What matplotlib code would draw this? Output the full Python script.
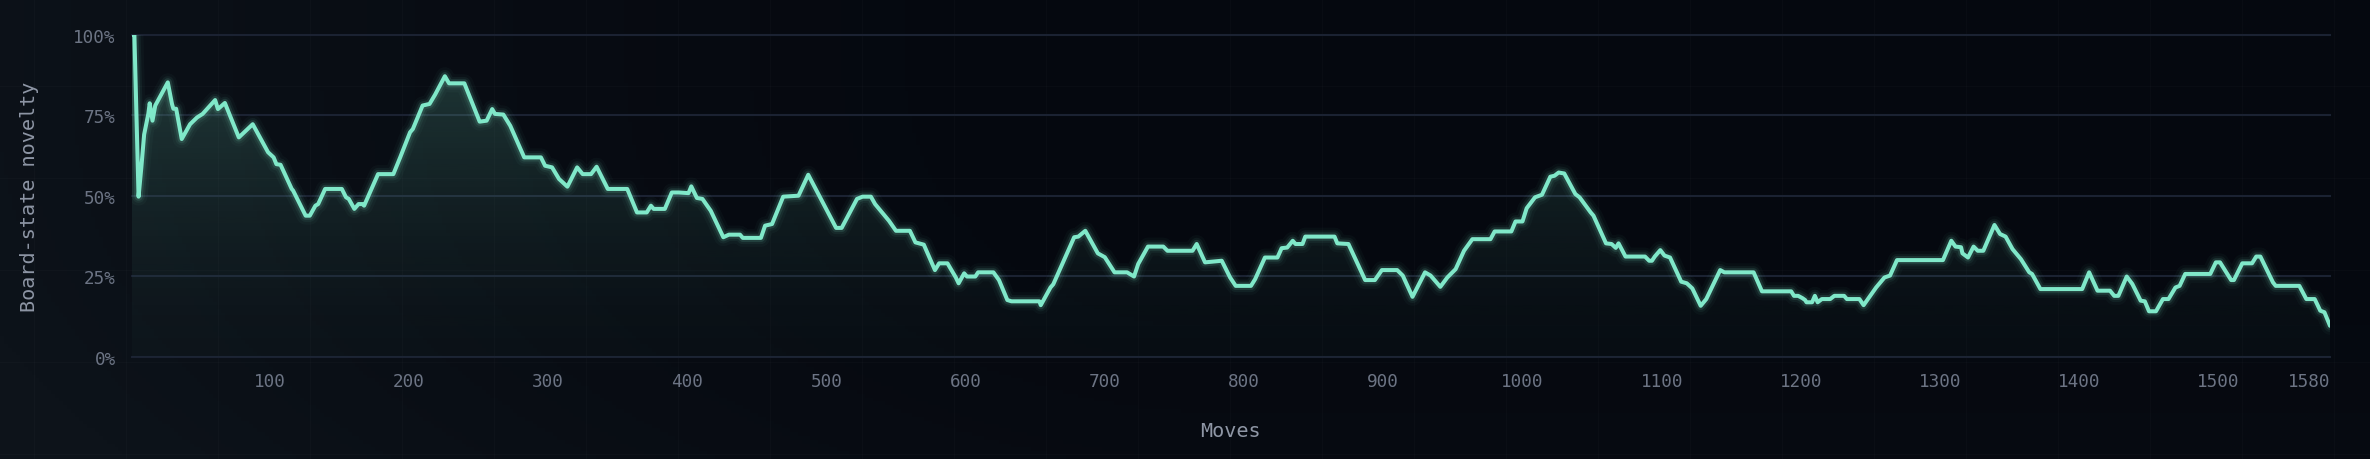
import numpy as np
import matplotlib.pyplot as plt
from matplotlib.patches import Polygon

# vertices of the novelty trace (move number, share of novel board states)
moves = np.array([
    1, 3, 6, 8, 10, 13, 14, 16, 18, 23, 27, 30, 31, 33, 37, 43, 48, 52, 61, 63,
    68, 78, 88, 99, 103, 105, 108, 116, 117, 126, 129, 133, 135, 140, 152, 155, 157, 161, 164, 167,
    168, 178, 189, 194, 201, 203, 210, 215, 219, 226, 229, 240, 251, 256, 260, 262, 268, 273, 283, 295,
    298, 303, 308, 314, 321, 325, 331, 335, 343, 357, 364, 371, 374, 376, 384, 389, 394, 401, 403, 407,
    411, 417, 426, 430, 438, 440, 453, 456, 461, 469, 480, 487, 507, 511, 522, 526, 532, 535, 545, 550,
    560, 564, 570, 578, 581, 587, 593, 595, 599, 601, 607, 609, 620, 624, 630, 633, 653, 654, 661, 663,
    678, 681, 686, 695, 700, 707, 716, 721, 724, 731, 742, 745, 763, 766, 772, 784, 790, 794, 805, 808,
    815, 824, 827, 831, 835, 837, 842, 844, 865, 867, 875, 887, 894, 899, 910, 914, 921, 930, 934, 941,
    946, 952, 958, 964, 977, 980, 992, 995, 1000, 1003, 1009, 1014, 1020, 1023, 1026, 1030, 1038, 1041, 1049, 1051,
    1060, 1064, 1067, 1069, 1074, 1088, 1091, 1093, 1095, 1099, 1102, 1106, 1114, 1118, 1122, 1128, 1132, 1142, 1145, 1166,
    1172, 1193, 1195, 1198, 1201, 1203, 1204, 1208, 1210, 1212, 1215, 1221, 1224, 1231, 1233, 1242, 1245, 1254, 1260, 1264,
    1269, 1302, 1308, 1311, 1315, 1316, 1320, 1324, 1327, 1331, 1339, 1343, 1347, 1352, 1358, 1364, 1366, 1372, 1402, 1407,
    1413, 1422, 1425, 1428, 1434, 1438, 1444, 1447, 1450, 1455, 1460, 1464, 1469, 1472, 1476, 1494, 1498, 1501, 1509, 1511,
    1517, 1524, 1527, 1530, 1539, 1541, 1558, 1563, 1569, 1573, 1576, 1580,
])
novelty = np.array([
    1.0, 1.0, 0.497, 0.588, 0.69, 0.754, 0.787, 0.733, 0.78, 0.82, 0.852, 0.785, 0.77, 0.77, 0.676, 0.722, 0.743, 0.754, 0.797, 0.769,
    0.788, 0.681, 0.722, 0.635, 0.619, 0.598, 0.596, 0.521, 0.516, 0.438, 0.438, 0.469, 0.474, 0.521, 0.521, 0.495, 0.49, 0.459, 0.474, 0.474,
    0.469, 0.567, 0.567, 0.62, 0.697, 0.707, 0.78, 0.785, 0.814, 0.871, 0.849, 0.849, 0.730, 0.733, 0.769, 0.754, 0.752, 0.717, 0.619, 0.619,
    0.593, 0.588, 0.552, 0.528, 0.588, 0.567, 0.567, 0.59, 0.521, 0.521, 0.448, 0.448, 0.469, 0.459, 0.459, 0.51, 0.51, 0.508, 0.529, 0.493,
    0.49, 0.453, 0.371, 0.379, 0.379, 0.369, 0.369, 0.407, 0.412, 0.497, 0.5, 0.565, 0.40, 0.40, 0.49, 0.497, 0.497, 0.474, 0.422, 0.391,
    0.391, 0.355, 0.348, 0.269, 0.29, 0.29, 0.246, 0.228, 0.259, 0.249, 0.249, 0.262, 0.262, 0.238, 0.176, 0.172, 0.172, 0.16, 0.215, 0.225,
    0.371, 0.373, 0.391, 0.321, 0.309, 0.262, 0.262, 0.249, 0.288, 0.342, 0.342, 0.329, 0.329, 0.35, 0.293, 0.298, 0.246, 0.22, 0.22, 0.241,
    0.308, 0.308, 0.337, 0.339, 0.36, 0.35, 0.35, 0.373, 0.373, 0.352, 0.35, 0.238, 0.238, 0.269, 0.269, 0.252, 0.186, 0.262, 0.252, 0.217,
    0.246, 0.272, 0.329, 0.365, 0.365, 0.389, 0.389, 0.42, 0.42, 0.461, 0.495, 0.503, 0.559, 0.562, 0.572, 0.569, 0.505, 0.495, 0.448, 0.438,
    0.352, 0.35, 0.338, 0.352, 0.311, 0.311, 0.298, 0.298, 0.311, 0.331, 0.314, 0.308, 0.233, 0.228, 0.212, 0.158, 0.179, 0.269, 0.262, 0.262,
    0.203, 0.203, 0.189, 0.189, 0.182, 0.176, 0.169, 0.169, 0.189, 0.169, 0.179, 0.179, 0.189, 0.189, 0.179, 0.179, 0.16, 0.215, 0.246, 0.252,
    0.30, 0.30, 0.36, 0.342, 0.34, 0.321, 0.308, 0.342, 0.329, 0.329, 0.409, 0.381, 0.373, 0.334, 0.303, 0.262, 0.257, 0.21, 0.21, 0.262,
    0.205, 0.205, 0.189, 0.189, 0.249, 0.226, 0.174, 0.172, 0.141, 0.141, 0.179, 0.179, 0.215, 0.22, 0.257, 0.257, 0.293, 0.293, 0.238, 0.238,
    0.29, 0.29, 0.311, 0.311, 0.231, 0.22, 0.22, 0.179, 0.179, 0.143, 0.138, 0.096,
])

x_ticks = [100, 200, 300, 400, 500, 600, 700, 800, 900, 1000, 1100, 1200, 1300, 1400, 1500, 1580]
y_ticks = [0, 0.25, 0.5, 0.75, 1.0]
y_tick_labels = ['0%', '25%', '50%', '75%', '100%']

LINE = '#80e8c9'
TICK = '#6c7484'
LABEL = '#8e96a5'
GRID = '#1b2232'
W, H = 2370, 460

plt.rcParams['font.family'] = ['DejaVu Sans Mono']

fig = plt.figure(figsize=(W / 100, H / 100), dpi=100)

# page background: dark navy, a bit lighter to the left, faint square pattern
bg = fig.add_axes([0, 0, 1, 1], zorder=0)
gx, gy = np.meshgrid(np.linspace(0, 1, 600), np.linspace(0, 1, 120))
dark = np.array([5, 8, 15]) / 255
light = np.array([13, 19, 26]) / 255
w = np.clip(1 - gx / 0.5, 0, 1) ** 1.6 * 0.9 + 0.25 * gy ** 3
w = np.clip(w, 0, 1)[..., None]
bg.imshow(dark + (light - dark) * w, extent=[0, W, H, 0], aspect='auto')
for xv in np.arange(34, W, 92):
    bg.axvline(xv, color='white', alpha=0.018, lw=1)
for yv in np.arange(87, H, 92):
    bg.axhline(yv, color='white', alpha=0.018, lw=1)
bg.set_xlim(0, W)
bg.set_ylim(H, 0)
bg.axis('off')

left, right, top, bottom = 131.6, 2330, 35.7, 357.7
ax = fig.add_axes([left / W, 1 - bottom / H, (right - left) / W, (bottom - top) / H], zorder=1)
ax.patch.set_alpha(0)

for v in y_ticks:
    ax.axhline(v, color=GRID, lw=1.5, zorder=0, clip_on=False)

# gradient fill under the trace
grad = np.linspace(0, 1, 256)[:, None]
rgba = np.zeros((256, 1, 4))
rgba[..., :3] = [126 / 255, 232 / 255, 200 / 255]
rgba[..., 3] = 0.02 + 0.2 * grad ** 1.4
img = ax.imshow(rgba, extent=[moves[0], moves[-1], 0, 1], origin='lower', aspect='auto', zorder=1)
poly = Polygon(np.column_stack([np.r_[moves[0], moves, moves[-1]], np.r_[0, novelty, 0]]),
               closed=True, facecolor='none', edgecolor='none')
ax.add_patch(poly)
img.set_clip_path(poly)

# glow + line
for lw, a in [(13, 0.03), (9, 0.06), (6, 0.12)]:
    ax.plot(moves, novelty, color=LINE, lw=lw, alpha=a, solid_joinstyle='round',
            solid_capstyle='round', zorder=2)
ax.plot(moves, novelty, color=LINE, lw=2.9, solid_joinstyle='round', solid_capstyle='round', zorder=3)

ax.set_xlim(1, 1580)
ax.set_ylim(0, 1)
ax.set_xticks(x_ticks)
ax.set_xticklabels([str(t) for t in x_ticks])
ax.get_xticklabels()[-1].set_ha('right')
ax.set_yticks(y_ticks)
ax.set_yticklabels(y_tick_labels)
ax.tick_params(length=0, labelsize=12.7, colors=TICK)
ax.tick_params(axis='x', pad=11)
ax.tick_params(axis='y', pad=11.5)
for s in ax.spines.values():
    s.set_visible(False)

ax.set_xlabel('Moves', fontsize=14.5, color=LABEL)
ax.xaxis.label.set_va('center')
ax.xaxis.set_label_coords(0.5, -0.228)
ax.set_ylabel('Board-state novelty', fontsize=14.5, color=LABEL)
ax.yaxis.label.set_va('center')
ax.yaxis.set_label_coords(-0.0464, 0.5)

fig.savefig('out.png', dpi=100)
